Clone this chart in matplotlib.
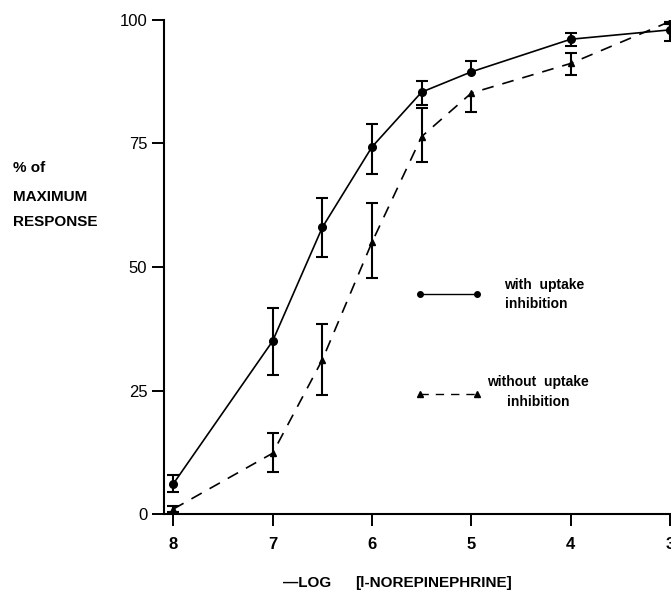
#Dose-response curves for l-norepinephrine, with and without uptake inhibition
import numpy as np
import matplotlib
matplotlib.use("Agg")
import matplotlib.pyplot as plt

plt.rcParams['font.family'] = ['Liberation Sans', 'DejaVu Sans']
plt.rcParams['lines.scale_dashes'] = False

#-log concentration
conc = np.array([8, 7, 6.5, 6, 5.5, 5, 4, 3])

#with uptake inhibition (circles, solid line)
with_mean = np.array([6.1, 35.0, 58.0, 74.3, 85.4, 89.5, 96.1, 98.0])
with_lo = np.array([1.6, 6.9, 6.0, 5.5, 2.6, 0.0, 1.3, 2.3])
with_hi = np.array([1.7, 6.8, 5.9, 4.6, 2.3, 2.1, 1.3, 1.5])

#without uptake inhibition (triangles, dashed line)
without_mean = np.array([1.0, 12.3, 31.2, 55.0, 76.4, 85.2, 91.2, 99.7])
without_lo = np.array([0.6, 3.7, 7.2, 7.3, 5.1, 3.8, 2.3, 0.5])
without_hi = np.array([0.6, 4.0, 7.3, 7.9, 5.7, 0.0, 2.2, 0.5])

x_ticks = [8, 7, 6, 5, 4, 3]
y_ticks = [0, 25, 50, 75, 100]

fig = plt.figure(figsize=(6.71, 5.93), dpi=100)
ax = fig.add_axes([0.2443, 0.1332, 0.7557, 0.8331])

def draw_errors(x, y, lo, hi):
    ax.errorbar(x, y, yerr=[lo, hi], fmt='none', ecolor='black',
                elinewidth=1.5, capsize=0, zorder=2)
    # caps only where a bar was drawn
    ax.plot(x[lo > 0], (y - lo)[lo > 0], '_', ms=9, mew=1.5, color='black')
    ax.plot(x[hi > 0], (y + hi)[hi > 0], '_', ms=9, mew=1.5, color='black')

draw_errors(conc, with_mean, with_lo, with_hi)
draw_errors(conc, without_mean, without_lo, without_hi)

ax.plot(conc, with_mean, '-', color='black', lw=1.2, marker='o', ms=5.5, zorder=3)
ax.plot(conc, without_mean, color='black', lw=1.2, marker='^', ms=4.5,
        dashes=(8.5, 6.5), zorder=3)

#hand drawn key inside the plot
ax.plot([5.52, 4.94], [44.5, 44.5], '-', color='black', lw=1.0, marker='o', ms=4)
ax.plot([5.52, 4.94], [24.3, 24.3], color='black', lw=1.0, marker='^', ms=4,
        dashes=(6, 5))
key_text = ["with  uptake", "inhibition", "without  uptake", "inhibition"]
key_x = [4.27, 4.35, 4.33, 4.33]
key_y = [46.4, 42.5, 26.8, 22.7]
for t, kx, ky in zip(key_text, key_x, key_y):
    ax.text(kx, ky, t, ha='center', va='center', fontsize=10, fontweight='bold')

ax.set_xlim(8.094, 2.99)
ax.set_ylim(0, 100)
ax.set_xticks(x_ticks)
ax.set_xticklabels([str(t) for t in x_ticks], fontsize=12, fontweight='bold')
ax.set_yticks(y_ticks)
ax.set_yticklabels([str(t) for t in y_ticks], fontsize=12)
ax.tick_params(axis='both', direction='out', length=8.5, width=1.4, color='black')
ax.tick_params(axis='x', pad=8)
ax.tick_params(axis='y', pad=3.5)

for side in ['top', 'right']:
    ax.spines[side].set_visible(False)
for side in ['left', 'bottom']:
    ax.spines[side].set_linewidth(1.5)
ax.spines['left'].set_bounds(0, 100)
ax.patch.set_visible(False)
for s in ax.spines.values():
    s.set_clip_on(False)

#y label, three lines on the left
ylabel_lines = ["% of", "MAXIMUM", "RESPONSE"]
ylabel_y = [0.7167, 0.6678, 0.6256]
for line, yy in zip(ylabel_lines, ylabel_y):
    fig.text(0.0194, yy, line, ha='left', va='center', fontsize=11, fontweight='bold')

#x label
fig.text(0.4218, 0.0169, "\u2014LOG", ha='left', va='center', fontsize=11, fontweight='bold')
fig.text(0.529, 0.0169, "[l-NOREPINEPHRINE]", ha='left', va='center', fontsize=11,
         fontweight='bold')

fig.savefig("out.png", dpi=100)
